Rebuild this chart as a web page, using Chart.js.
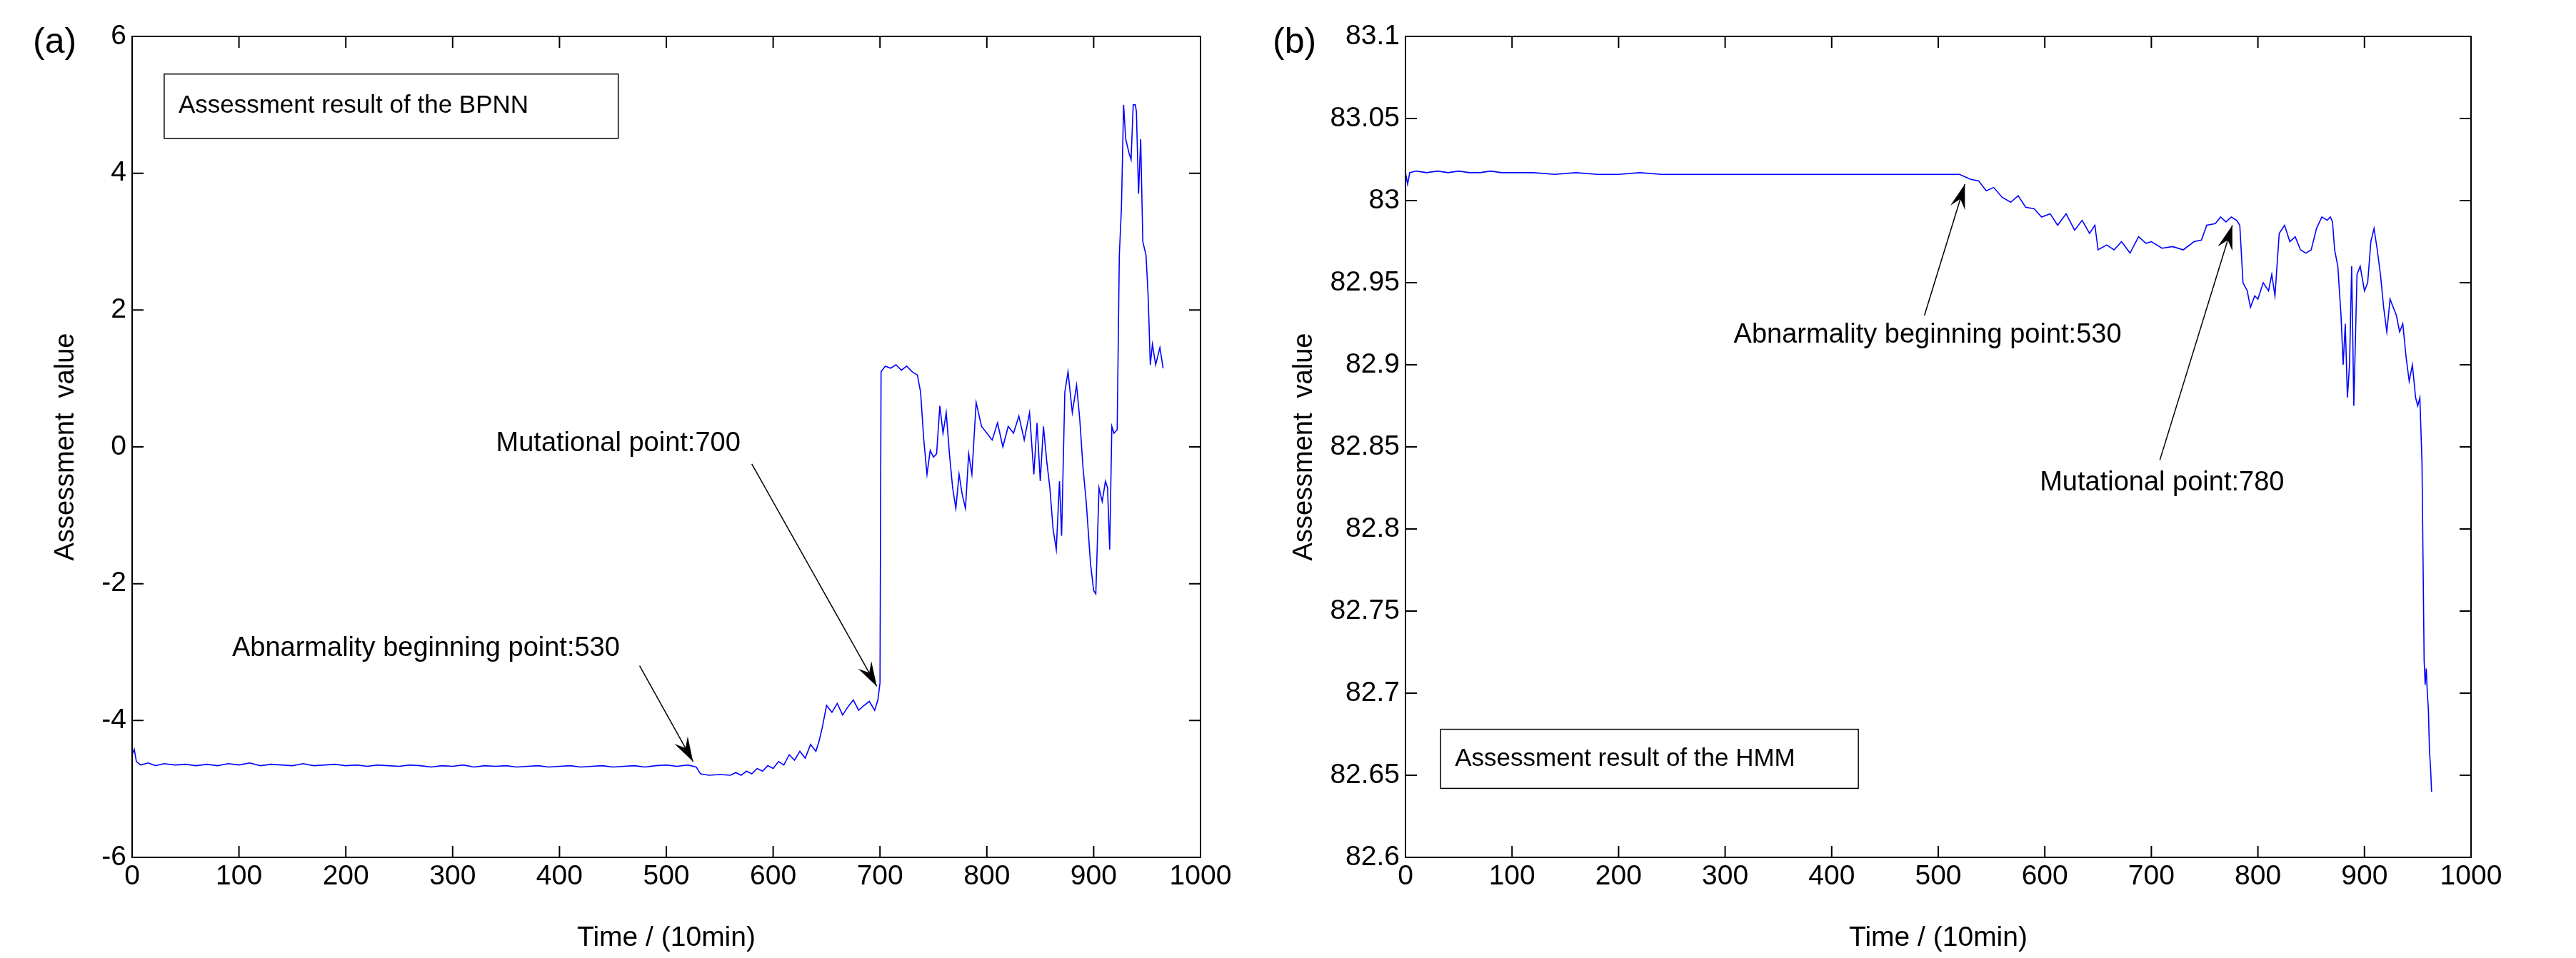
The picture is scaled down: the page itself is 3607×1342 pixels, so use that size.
<!DOCTYPE html>
<html>
<head>
<meta charset="utf-8">
<script src="https://cdn.jsdelivr.net/npm/chart.js@4"></script>
<style>
  body { margin: 0; background: #fff; width: 3607px; height: 1342px; overflow: hidden; }
  canvas { position: absolute; top: 0; }
  .letter { position: absolute; top: 28px; font: 50px "Liberation Sans", Arial, sans-serif; color: #000; }
</style>
</head>
<body>
<canvas id="chartA" width="1790" height="1342" style="left:0"></canvas>
<canvas id="chartB" width="1807" height="1342" style="left:1800px"></canvas>
<div class="letter" style="left:46px">(a)</div>
<div class="letter" style="left:1782px">(b)</div>
<script>
// (a) BPNN assessment value
const timeA = [0, 2, 4, 8, 15, 22, 30, 40, 50, 60, 70, 80, 90, 100, 110, 120, 130, 140, 150, 160, 170, 180, 190, 200,
  210, 220, 230, 240, 250, 260, 270, 280, 290, 300, 310, 320, 330, 340, 350, 360, 370, 380, 390, 400, 410, 420,
  430, 440, 450, 460, 470, 480, 490, 500, 510, 520, 528, 532, 540, 550, 560, 565, 570, 575, 580, 585, 590, 595,
  600, 605, 610, 615, 620, 625, 630, 635, 640, 643, 646, 650, 655, 660, 665, 670, 675, 680, 685, 690, 695, 698,
  700, 701, 705, 710, 715, 720, 725, 730, 735, 738, 741, 744, 747, 750, 753, 756, 759, 762, 765, 768, 771, 774,
  777, 780, 783, 786, 790, 795, 800, 805, 810, 815, 820, 825, 830, 835, 840, 844, 847, 850, 853, 856, 859, 862,
  865, 868, 870, 873, 876, 880, 884, 887, 890, 893, 897, 900, 902, 905, 908, 911, 913, 915, 917, 919, 922, 924,
  926, 928, 930, 933, 935, 937, 939, 940, 942, 944, 946, 949, 951, 953, 955, 958, 962, 965];
const valueA = [-4.5, -4.42, -4.6, -4.65, -4.62, -4.66, -4.63, -4.65, -4.64, -4.66, -4.64, -4.66, -4.63, -4.65, -4.62, -4.66, -4.64, -4.65, -4.66, -4.63, -4.66, -4.65, -4.64, -4.66,
  -4.65, -4.67, -4.65, -4.66, -4.67, -4.65, -4.66, -4.68, -4.66, -4.67, -4.65, -4.68, -4.66, -4.67, -4.66, -4.68, -4.67, -4.66, -4.68, -4.67, -4.66, -4.68,
  -4.67, -4.66, -4.68, -4.67, -4.66, -4.68, -4.66, -4.65, -4.67, -4.65, -4.68, -4.78, -4.8, -4.79, -4.8, -4.76, -4.8, -4.74, -4.78, -4.7, -4.74, -4.66,
  -4.7, -4.6, -4.65, -4.5, -4.58, -4.45, -4.55, -4.35, -4.45, -4.3, -4.1, -3.78, -3.88, -3.75, -3.92, -3.8, -3.7, -3.85, -3.78, -3.72, -3.85, -3.7,
  -3.45, 1.1, 1.18, 1.15, 1.2, 1.12, 1.18, 1.1, 1.05, 0.8, 0.1, -0.4, -0.05, -0.15, -0.1, 0.6, 0.2, 0.5, -0.1, -0.6, -0.9, -0.4,
  -0.7, -0.9, -0.1, -0.4, 0.65, 0.3, 0.2, 0.1, 0.35, 0.0, 0.3, 0.2, 0.45, 0.1, 0.5, -0.4, 0.35, -0.5, 0.3, -0.2, -0.6, -1.2,
  -1.5, -0.5, -1.3, 0.8, 1.1, 0.5, 0.9, 0.4, -0.3, -0.8, -1.7, -2.1, -2.15, -0.6, -0.8, -0.5, -0.6, -1.5, 0.3, 0.2, 0.25, 2.8,
  3.5, 5.0, 4.5, 4.3, 4.2, 5.0, 5.0, 4.9, 3.7, 4.5, 3.0, 2.8, 2.2, 1.2, 1.5, 1.2, 1.45, 1.15];

// (b) HMM assessment value
const timeB = [0, 2, 4, 10, 20, 30, 40, 50, 60, 70, 80, 90, 100, 120, 140, 160, 180, 200, 220, 240, 260, 280, 300,
  320, 340, 360, 380, 400, 420, 440, 460, 480, 500, 520, 530, 538, 545, 552, 560, 568, 575, 582, 590, 597, 605,
  612, 620, 628, 635, 642, 647, 650, 658, 665, 672, 680, 688, 695, 700, 710, 720, 730, 740, 747, 752, 760, 765,
  770, 775, 780, 783, 786, 790, 793, 797, 800, 805, 810, 813, 816, 820, 825, 830, 835, 840, 845, 850, 855, 860,
  865, 868, 870, 872, 875, 878, 880, 882, 884, 886, 888, 890, 893, 896, 900, 903, 906, 909, 912, 915, 918, 921,
  924, 927, 930, 933, 936, 939, 942, 945, 948, 950, 952, 954, 955, 956, 957, 958, 959, 960, 961, 962, 963];
const valueB = [83.017, 83.01, 83.017, 83.018, 83.017, 83.018, 83.017, 83.018, 83.017, 83.017, 83.018, 83.017, 83.017, 83.017, 83.016, 83.017, 83.016, 83.016, 83.017, 83.016, 83.016, 83.016, 83.016,
  83.016, 83.016, 83.016, 83.016, 83.016, 83.016, 83.016, 83.016, 83.016, 83.016, 83.016, 83.013, 83.012, 83.006, 83.008, 83.002, 82.999, 83.003, 82.996, 82.995, 82.99, 82.992,
  82.985, 82.992, 82.982, 82.988, 82.98, 82.985, 82.97, 82.973, 82.97, 82.975, 82.968, 82.978, 82.974, 82.975, 82.971, 82.972, 82.97, 82.975, 82.976, 82.985, 82.986, 82.99,
  82.987, 82.99, 82.988, 82.985, 82.95, 82.945, 82.935, 82.942, 82.94, 82.95, 82.945, 82.955, 82.942, 82.98, 82.985, 82.975, 82.978, 82.97, 82.968, 82.97, 82.983, 82.99,
  82.988, 82.99, 82.987, 82.97, 82.96, 82.93, 82.9, 82.925, 82.88, 82.9, 82.96, 82.875, 82.955, 82.96, 82.945, 82.95, 82.975, 82.983, 82.97, 82.955, 82.935, 82.92,
  82.94, 82.935, 82.93, 82.92, 82.925, 82.905, 82.89, 82.9, 82.88, 82.875, 82.88, 82.84, 82.78, 82.72, 82.705, 82.715, 82.7, 82.69, 82.665, 82.655, 82.64];

const xTicks = [0, 100, 200, 300, 400, 500, 600, 700, 800, 900, 1000];
const yTicksA = [-6, -4, -2, 0, 2, 4, 6];
const yTicksB = [82.6, 82.65, 82.7, 82.75, 82.8, 82.85, 82.9, 82.95, 83, 83.05, 83.1];

const FONT = '"Liberation Sans", Arial, sans-serif';

const framePlugin = {
  id: 'frame',
  afterDraw(chart, args, opts) {
    const c = chart.ctx, a = chart.chartArea, sx = chart.scales.x, sy = chart.scales.y;
    c.save();
    c.strokeStyle = '#000';
    c.lineWidth = 2;
    c.strokeRect(a.left, a.top, a.right - a.left, a.bottom - a.top);
    const t = 16;
    c.beginPath();
    sx.ticks.forEach(tk => {
      const px = sx.getPixelForValue(tk.value);
      c.moveTo(px, a.bottom); c.lineTo(px, a.bottom - t);
      c.moveTo(px, a.top); c.lineTo(px, a.top + t);
    });
    sy.ticks.forEach(tk => {
      const py = sy.getPixelForValue(tk.value);
      c.moveTo(a.left, py); c.lineTo(a.left + t, py);
      c.moveTo(a.right, py); c.lineTo(a.right - t, py);
    });
    c.stroke();
    c.lineWidth = 1.5;
    // text box
    const b = opts.box;
    const bx = sx.getPixelForValue(b.x0), by = sy.getPixelForValue(b.y0);
    const bw = sx.getPixelForValue(b.x1) - bx, bh = sy.getPixelForValue(b.y1) - by;
    c.fillStyle = '#fff';
    c.fillRect(bx, by, bw, bh);
    c.strokeRect(bx, by, bw, bh);
    c.fillStyle = '#000';
    c.font = '35px ' + FONT;
    c.textBaseline = 'middle';
    c.fillText(b.text, bx + 20, by + bh / 2);
    // annotations with arrows
    opts.notes.forEach(n => {
      c.font = '38px ' + FONT;
      c.textAlign = 'center';
      c.fillText(n.text, sx.getPixelForValue(n.tx), sy.getPixelForValue(n.ty));
      const x0 = sx.getPixelForValue(n.fx), y0 = sy.getPixelForValue(n.fy);
      const x1 = sx.getPixelForValue(n.ax), y1 = sy.getPixelForValue(n.ay);
      c.beginPath(); c.moveTo(x0, y0); c.lineTo(x1, y1); c.stroke();
      const ang = Math.atan2(y1 - y0, x1 - x0), L = 36, W = 0.3;
      c.beginPath();
      c.moveTo(x1, y1);
      c.lineTo(x1 - L * Math.cos(ang - W), y1 - L * Math.sin(ang - W));
      c.lineTo(x1 - L * 0.6 * Math.cos(ang), y1 - L * 0.6 * Math.sin(ang));
      c.lineTo(x1 - L * Math.cos(ang + W), y1 - L * Math.sin(ang + W));
      c.closePath(); c.fill();
    });
    c.restore();
  }
};

function makeChart(id, xs, ys, yTicks, yMin, yMax, area, frameOpts) {
  const pts = xs.map((x, i) => ({ x: x, y: ys[i] }));
  return new Chart(document.getElementById(id), {
    type: 'line',
    data: { datasets: [{ data: pts, borderColor: '#0000ff', borderWidth: 1.6, pointRadius: 0, tension: 0 }] },
    options: {
      responsive: false,
      devicePixelRatio: 1,
      animation: false,
      layout: { padding: { top: area.top, right: area.right, left: area.padL, bottom: 0 } },
      plugins: { legend: { display: false }, tooltip: { enabled: false }, frame: frameOpts },
      scales: {
        x: {
          type: 'linear', min: 0, max: 1000,
          afterBuildTicks: s => { s.ticks = xTicks.map(v => ({ value: v })); },
          afterFit: s => { s.height = area.bottomH; },
          grid: { drawOnChartArea: false, drawTicks: false },
          border: { display: false },
          ticks: { color: '#000', font: { size: 39, family: FONT }, padding: 4, maxRotation: 0, autoSkip: false, callback: v => String(v) },
          title: { display: true, text: 'Time / (10min)', color: '#000', font: { size: 39, family: FONT }, padding: { top: 2 } }
        },
        y: {
          type: 'linear', min: yMin, max: yMax,
          afterBuildTicks: s => { s.ticks = yTicks.map(v => ({ value: v })); },
          afterFit: s => { s.width = area.left - area.padL; },
          grid: { drawOnChartArea: false, drawTicks: false },
          border: { display: false },
          ticks: { color: '#000', font: { size: 39, family: FONT }, padding: 8, autoSkip: false, callback: v => String(+v.toFixed(2)) },
          title: { display: true, text: 'Assessment  value', color: '#000', font: { size: 38, family: FONT }, padding: { bottom: 4 } }
        }
      }
    },
    plugins: [framePlugin]
  });
}

makeChart('chartA', timeA, valueA, yTicksA, -6, 6,
  { left: 185, padL: 66, right: 109, top: 51, bottomH: 141 },
  {
    box: { x0: 30, y0: 5.45, x1: 455, y1: 4.51, text: 'Assessment result of the BPNN' },
    notes: [
      { text: 'Abnarmality beginning point:530', tx: 275, ty: -2.95, fx: 475, fy: -3.2, ax: 525, ay: -4.6 },
      { text: 'Mutational point:700', tx: 455, ty: 0.05, fx: 580, fy: -0.25, ax: 697, ay: -3.5 }
    ]
  });

makeChart('chartB', timeB, valueB, yTicksB, 82.6, 83.1,
  { left: 168, padL: 0, right: 147, top: 51, bottomH: 141 },
  {
    box: { x0: 33, y0: 82.678, x1: 425, y1: 82.642, text: 'Assessment result of the HMM' },
    notes: [
      { text: 'Abnarmality beginning point:530', tx: 490, ty: 82.918, fx: 487, fy: 82.93, ax: 525, ay: 83.01 },
      { text: 'Mutational point:780', tx: 710, ty: 82.828, fx: 708, fy: 82.842, ax: 776, ay: 82.985 }
    ]
  });
</script>
</body>
</html>
